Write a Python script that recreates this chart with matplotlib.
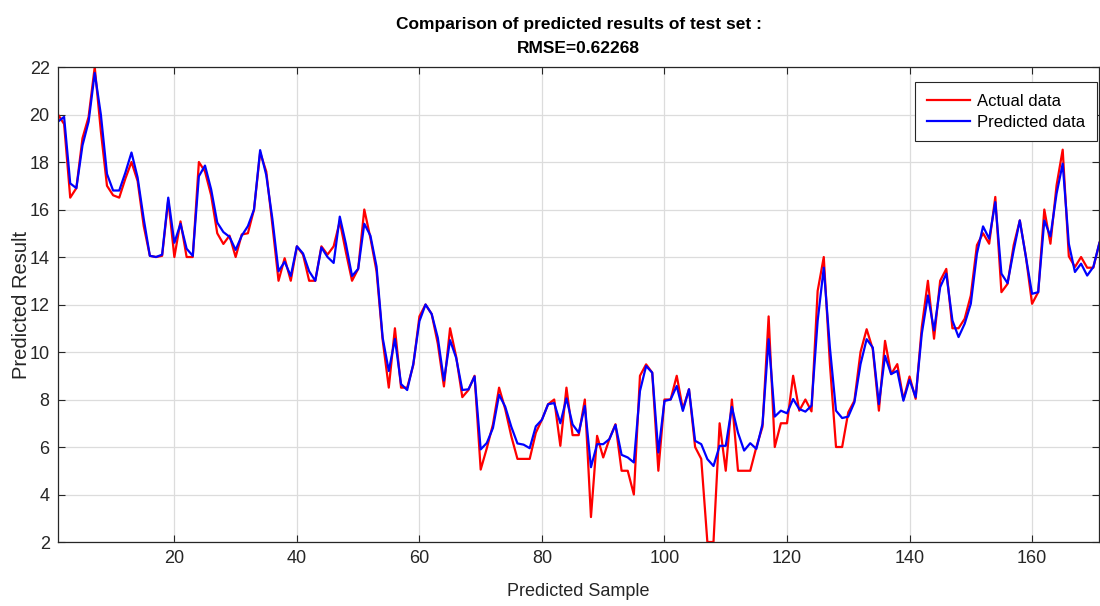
import matplotlib
matplotlib.use("Agg")
import matplotlib.pyplot as plt
import numpy as np

# ---------------------------------------------------------------------------
# Data
# ---------------------------------------------------------------------------
actual = [
    20.0, 19.6, 16.5, 16.9, 19.0, 19.9, 22.0, 19.3, 17.0, 16.6,
    16.5, 17.3, 18.0, 17.2, 15.3, 14.05, 14.0, 14.05, 16.4, 14.0,
    15.5, 14.0, 14.0, 18.0, 17.6, 16.6, 15.0, 14.55, 14.9, 14.0,
    14.95, 15.0, 16.0, 18.4, 17.6, 15.35, 13.0, 13.95, 13.0, 14.45,
    14.1, 13.0, 13.0, 14.45, 14.1, 14.45, 15.5, 14.2, 13.0, 13.5,
    16.0, 14.8, 13.4, 10.5, 8.5, 11.0, 8.5, 8.5, 9.45, 11.5,
    12.0, 11.6, 10.35, 8.55, 11.0, 9.8, 8.1, 8.4, 9.0, 5.05,
    5.95, 6.95, 8.5, 7.6, 6.45, 5.5, 5.5, 5.5, 6.6, 7.15,
    7.8, 8.0, 6.05, 8.5, 6.5, 6.5, 8.0, 3.05, 6.47, 5.56,
    6.33, 6.96, 5.0, 5.0, 4.0, 9.0, 9.48, 9.13, 5.0, 8.0,
    8.0, 9.0, 7.6, 8.43, 6.0, 5.5, 2.0, 2.0, 7.0, 5.0,
    8.0, 5.0, 5.0, 5.0, 6.0, 6.85, 11.5, 6.0, 7.0, 7.0,
    9.0, 7.53, 8.0, 7.5, 12.57, 14.0, 9.5, 6.0, 6.0, 7.46,
    7.95, 10.0, 10.96, 10.12, 7.53, 10.47, 9.07, 9.49, 8.0, 8.97,
    8.03, 11.05, 13.0, 10.56, 13.0, 13.5, 11.0, 11.0, 11.4, 12.38,
    14.5, 15.0, 14.56, 16.53, 12.52, 12.87, 14.5, 15.54, 14.0, 12.03,
    12.52, 16.0, 14.56, 17.02, 18.52, 14.03, 13.58, 14.0, 13.55, 13.55,
    14.6,
]

predicted = [
    19.7, 19.9, 17.1, 16.9, 18.7, 19.7, 21.75, 20.0, 17.5, 16.8,
    16.8, 17.55, 18.4, 17.35, 15.6, 14.05, 14.0, 14.1, 16.5, 14.6,
    15.4, 14.35, 14.05, 17.4, 17.85, 16.85, 15.45, 15.05, 14.85, 14.3,
    14.9, 15.3, 16.0, 18.5, 17.45, 15.6, 13.4, 13.8, 13.2, 14.45,
    14.15, 13.4, 13.0, 14.4, 14.0, 13.75, 15.7, 14.55, 13.2, 13.5,
    15.4, 14.9, 13.6, 10.6, 9.2, 10.55, 8.65, 8.4, 9.5, 11.3,
    12.0, 11.6, 10.6, 8.8, 10.5, 9.75, 8.4, 8.43, 8.97, 5.9,
    6.17, 6.8, 8.2, 7.7, 6.85, 6.15, 6.1, 5.95, 6.87, 7.15,
    7.8, 7.85, 7.0, 8.05, 6.95, 6.6, 7.73, 5.15, 6.12, 6.12,
    6.33, 6.93, 5.67, 5.56, 5.35, 8.36, 9.41, 9.13, 5.77, 7.94,
    8.0, 8.57, 7.52, 8.43, 6.26, 6.12, 5.49, 5.2, 6.05, 6.05,
    7.69, 6.6, 5.85, 6.16, 5.92, 6.97, 10.54, 7.28, 7.53, 7.42,
    8.02, 7.6, 7.49, 7.74, 11.31, 13.55, 10.19, 7.53, 7.22, 7.28,
    7.88, 9.49, 10.54, 10.19, 7.81, 9.84, 9.07, 9.21, 7.95, 8.83,
    8.1, 10.77, 12.38, 10.91, 12.73, 13.3, 11.33, 10.63, 11.19, 12.03,
    14.14, 15.29, 14.77, 16.31, 13.3, 12.9, 14.28, 15.54, 14.0, 12.45,
    12.52, 15.54, 14.87, 16.67, 17.93, 14.56, 13.37, 13.72, 13.22, 13.58,
    14.6,
]

rmse_text = "RMSE=0.62268"
x_ticks = [20, 40, 60, 80, 100, 120, 140, 160]
y_ticks = [2, 4, 6, 8, 10, 12, 14, 16, 18, 20, 22]

# ---------------------------------------------------------------------------
# Style (MATLAB-like)
# ---------------------------------------------------------------------------
AXIS_COLOR = "#262626"
GRID_COLOR = "#dcdcdc"
plt.rcParams["font.family"] = ["Liberation Sans", "DejaVu Sans"]

samples = np.arange(1, len(actual) + 1)

fig = plt.figure(figsize=(11, 6.06), dpi=100)
ax = fig.add_axes([0.0527, 0.1056, 0.9468, 0.7838])

ax.plot(samples, actual, color="red", lw=1.6, label="Actual data")
ax.plot(samples, predicted, color="blue", lw=1.6, label="Predicted data")

ax.set_xlim(1, 171)
ax.set_ylim(2, 22)
ax.set_xticks(x_ticks)
ax.set_yticks(y_ticks)
ax.grid(True, color=GRID_COLOR, lw=0.9)
ax.set_axisbelow(True)

ax.tick_params(direction="in", length=5, width=0.8, colors=AXIS_COLOR,
               labelsize=13, top=True, right=True, pad=6)
for s in ax.spines.values():
    s.set_color(AXIS_COLOR)
    s.set_linewidth(0.9)

ax.set_xlabel("Predicted Sample", fontsize=13, color=AXIS_COLOR, labelpad=11)
ax.set_ylabel("Predicted Result", fontsize=14.5, color=AXIS_COLOR, labelpad=-1)
ax.set_title("Comparison of predicted results of test set :\n" + rmse_text,
             fontsize=12.5, fontweight="bold", color="black", pad=10, linespacing=1.75)

leg = ax.legend(loc="upper right", fontsize=12, frameon=True, fancybox=False,
                edgecolor=AXIS_COLOR, framealpha=1, borderpad=0.7,
                handlelength=2.6, handletextpad=0.4, labelspacing=0.35,
                borderaxespad=0, bbox_to_anchor=(0.9975, 0.968))
leg.get_frame().set_linewidth(0.8)

fig.savefig("out.png", dpi=100, facecolor="white")
plt.close(fig)
